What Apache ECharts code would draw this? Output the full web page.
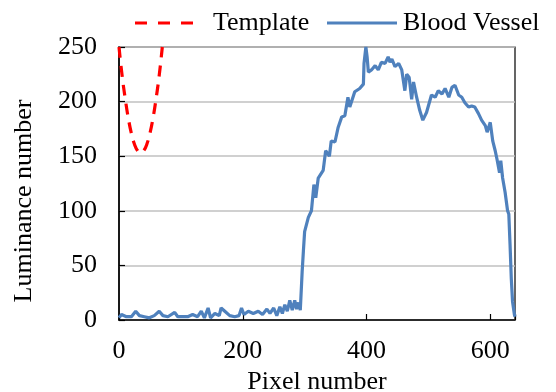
<!DOCTYPE html>
<html>
<head>
<meta charset="utf-8">
<script src="https://cdn.jsdelivr.net/npm/echarts@6/dist/echarts.min.js"></script>
<style>html,body{margin:0;padding:0;background:#fff}#c{width:556px;height:392px}</style>
</head>
<body>
<div id="c"></div>
<script>
var vesselX = [0,4,12,20,27,33,41,49,57,65,71,79,90,95,103,111,119,127,133,138,144,148,155,162,165,171,179,187,194,198,202,209,217,225,232,239,244,250,255,260,264,268,272,276,280,284,287,290,293,296,298,300,306,311,315,318,322,330,334,340,343,349,354,360,365,370,373,381,389,395,396,399,401,403,408,414,419,424,430,435,438,441,446,452,457,462,465,469,473,476,481,486,491,497,505,511,516,522,527,533,538,543,549,554,559,565,570,575,581,586,592,595,600,604,608,611,615,617,620,624,628,630,632,634,636,639,640];
var vesselY = [2,5,3,3,8,4,3,2,4,8,4,3,7,3,3,3,5,3,8,2,11,2,6,4,11,8,4,3,4,11,5,8,6,8,5,10,6,11,4,12,6,14,8,18,9,18,10,16,9,44,63,81,94,100,124,112,130,137,155,150,164,163,176,186,187,204,195,209,212,216,235,250,241,227,229,233,229,236,235,241,236,239,232,235,229,210,225,222,202,218,204,192,183,190,206,204,210,207,212,204,213,215,206,204,199,195,196,195,189,183,178,172,181,164,155,147,135,146,130,117,100,97,69,38,17,5,3];
var templateX = [0,5,10,15,20,25,30,35,40,45,50,55,60,65,70];
var templateY = [250,224,203,185,171,161,155,153,155,161,171,185,203,224,250];
var xTicks = [0,200,400,600];
var yTicks = [0,50,100,150,200,250];

function pairs(xs, ys){ return xs.map(function(x,i){ return [x, ys[i]]; }); }

var FONT = 'Liberation Serif';
var legendText = {fontFamily: FONT, fontSize: 26, color: '#000'};
var chart = echarts.init(document.getElementById('c'));
chart.setOption({
  animation: false,
  backgroundColor: '#fff',
  textStyle: {fontFamily: FONT},
  grid: {left: 119, right: 41, top: 47, bottom: 72, show: true, borderColor: '#000', borderWidth: 1.2,
         containLabel: false, outerBoundsMode: 'none'},
  legend: [
    {data: [{name: 'Template', icon: 'path://M0,0h12v3h-12z M23,0h12v3h-12z M46,0h12v3h-12z'}],
     left: 130, top: 5, itemWidth: 58, itemHeight: 3, itemGap: 0,
     itemStyle: {borderWidth: 0}, lineStyle: {width: 0},
     textStyle: Object.assign({padding: [0,0,0,15]}, legendText)},
    {data: [{name: 'Blood Vessel', icon: 'path://M0,0h70v3h-70z'}],
     left: 322, top: 5, itemWidth: 70, itemHeight: 3, itemGap: 0,
     itemStyle: {borderWidth: 0}, lineStyle: {width: 0},
     textStyle: Object.assign({padding: [0,0,0,1]}, legendText)}
  ],
  xAxis: {
    type: 'value', min: xTicks[0], max: 640, interval: 200,
    name: 'Pixel number', nameLocation: 'middle', nameGap: 40,
    nameTextStyle: {fontFamily: FONT, fontSize: 26, color: '#000'},
    axisLine: {show: true, lineStyle: {color: '#000', width: 1.5}},
    axisTick: {show: true, inside: true, length: 6, lineStyle: {color: '#000', width: 1.2}},
    axisLabel: {fontFamily: FONT, fontSize: 26, color: '#000', margin: 18,
      formatter: function(v){ return xTicks.indexOf(v) >= 0 ? String(v) : ''; }},
    splitLine: {show: false}
  },
  yAxis: {
    type: 'value', min: yTicks[0], max: yTicks[yTicks.length-1], interval: 50,
    axisLine: {show: true, lineStyle: {color: '#000', width: 1.5}},
    axisTick: {show: true, inside: true, length: 6, lineStyle: {color: '#000', width: 1.2}},
    axisLabel: {fontFamily: FONT, fontSize: 26, color: '#000', margin: 22},
    splitLine: {show: true, lineStyle: {color: '#c0c0c0', width: 1.5}}
  },
  graphic: [{
    type: 'text', x: 24, y: 201, rotation: Math.PI/2,
    style: {text: 'Luminance number', font: '26px "Liberation Serif"', fill: '#000',
      textAlign: 'center', textVerticalAlign: 'middle'}
  }],
  series: [
    {name: 'Template', type: 'line', data: pairs(templateX, templateY), smooth: true,
     showSymbol: false, symbol: 'none', clip: true,
     lineStyle: {color: '#ff0000', width: 3.2, type: [11, 8]}, itemStyle: {color: '#ff0000'}},
    {name: 'Blood Vessel', type: 'line', data: pairs(vesselX, vesselY),
     showSymbol: false, symbol: 'none', clip: true,
     lineStyle: {color: '#4f81bd', width: 3.2}, itemStyle: {color: '#4f81bd'}}
  ]
});
</script>
</body>
</html>
